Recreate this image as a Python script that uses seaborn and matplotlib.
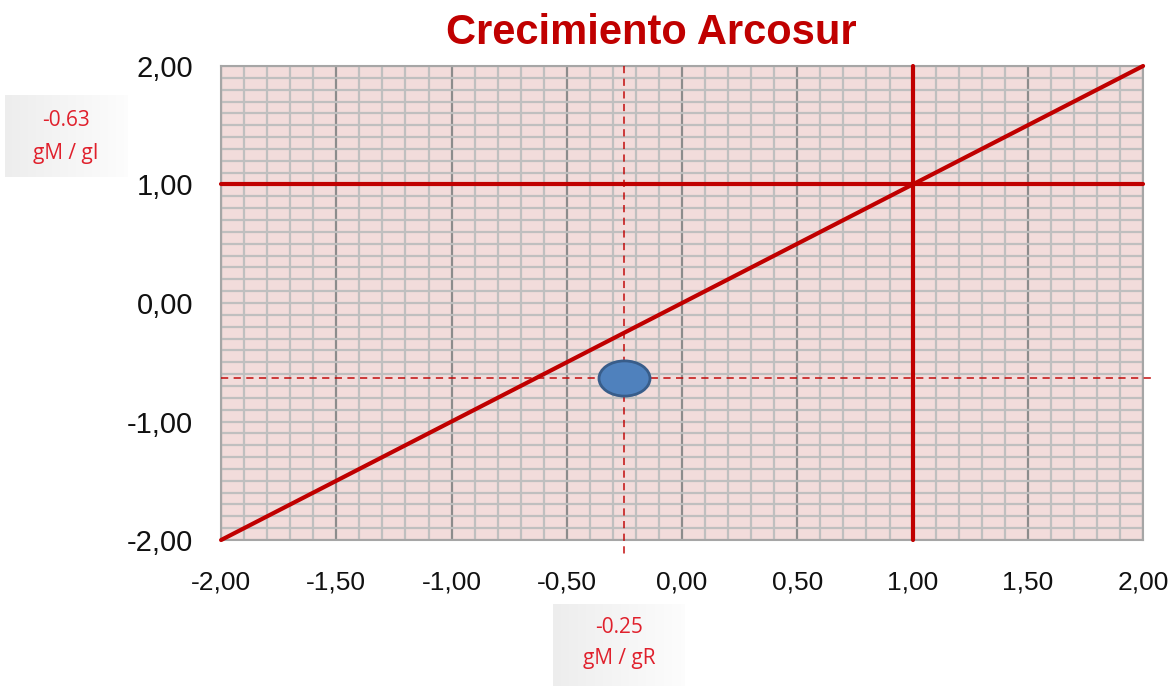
import numpy as np
import pandas as pd
import matplotlib
matplotlib.use('Agg')
import matplotlib.pyplot as plt
import seaborn as sns
from matplotlib.path import Path
from matplotlib.transforms import Affine2D
from matplotlib.ticker import MultipleLocator, FuncFormatter

# Datos
linea_x = [-2.0, 2.0]
linea_y = [-2.0, 2.0]
punto_x = [-0.25]
punto_y = [-0.63]
ref_x = 1.0
ref_y = 1.0
etiqueta_y = ['-0.63', 'gM / gI']
etiqueta_x = ['-0.25', 'gM / gR']

rojo = '#c00000'

sns.set_style('white')
plt.rcParams['font.family'] = ['Liberation Sans', 'DejaVu Sans']

fig = plt.figure(figsize=(11.76, 6.86), dpi=100)
ax = fig.add_axes([0.188, 0.2128, 0.784, 0.691])
ax.set_facecolor('#f2dcdb')

ax.set_xlim(-2, 2)
ax.set_ylim(-2, 2)

# Rejilla
ax.xaxis.set_major_locator(MultipleLocator(0.5))
ax.xaxis.set_minor_locator(MultipleLocator(0.1))
ax.yaxis.set_major_locator(MultipleLocator(1.0))
ax.yaxis.set_minor_locator(MultipleLocator(0.1))
ax.grid(True, which='minor', color='#bfbfbf', lw=1.6, zorder=0)
ax.grid(True, which='major', axis='x', color='#8c8c8c', lw=1.6, zorder=0)
ax.grid(True, which='major', axis='y', color='#bfbfbf', lw=1.6, zorder=0)
ax.set_axisbelow(True)
ax.tick_params(which='both', length=0)
for s in ax.spines.values():
    s.set_color('#a6a6a6')
    s.set_linewidth(1.5)

fmt = FuncFormatter(lambda v, p: f'{v:.2f}'.replace('.', ','))
ax.xaxis.set_major_formatter(fmt)
ax.yaxis.set_major_formatter(fmt)
ax.tick_params(axis='x', labelsize=19, pad=22, colors='#111111')
ax.tick_params(axis='y', labelsize=21, pad=20, colors='#111111')

# Lineas de referencia
ax.axhline(ref_y, color=rojo, lw=3, zorder=3)
ax.axvline(ref_x, color=rojo, lw=3, zorder=3)
ax.plot([-2, 2.05], [punto_y[0]] * 2, color=rojo, lw=1.3, ls=(0, (4, 3)),
        alpha=0.8, clip_on=False, zorder=3)
ax.plot([punto_x[0]] * 2, [2, -2.15], color=rojo, lw=1.3, ls=(0, (4, 3)),
        alpha=0.8, clip_on=False, zorder=3)

# Diagonal
df_linea = pd.DataFrame({'x': linea_x, 'y': linea_y})
sns.lineplot(data=df_linea, x='x', y='y', color=rojo, lw=3, ax=ax, zorder=4)
for l in ax.lines:
    l.set_clip_on(False)

# Punto
elipse = Path.unit_circle().transformed(Affine2D().scale(1.45, 1.0))
df_punto = pd.DataFrame({'x': punto_x, 'y': punto_y})
sns.scatterplot(data=df_punto, x='x', y='y', marker=elipse, s=1350,
                color='#4f81bd', edgecolor='#385d8a', linewidth=2, ax=ax, zorder=5)
ax.set_xlabel('')
ax.set_ylabel('')

fig.text(0.554, 1 - 33 / 686, 'Crecimiento Arcosur', ha='center', va='center',
         fontsize=30, fontweight='bold', color=rojo)

# Cuadros de etiqueta
def cuadro(x0, y0, w, h, lineas, ys):
    axb = fig.add_axes([x0 / 1176, 1 - (y0 + h) / 686, w / 1176, h / 686])
    grad = np.linspace(0.93, 0.99, 100).reshape(1, -1)
    axb.imshow(np.dstack([grad, grad, grad]), aspect='auto', extent=[0, 1, 0, 1])
    axb.set_axis_off()
    for t, yy in zip(lineas, ys):
        axb.text(0.5, yy, t, ha='center', va='center', fontsize=15,
                 color='#e0202c', family=['Open Sans', 'DejaVu Sans'])

cuadro(5, 95, 122, 82, etiqueta_y, [0.69, 0.29])
cuadro(553, 604, 132, 82, etiqueta_x, [0.71, 0.33])

fig.savefig('out.png', dpi=100)
